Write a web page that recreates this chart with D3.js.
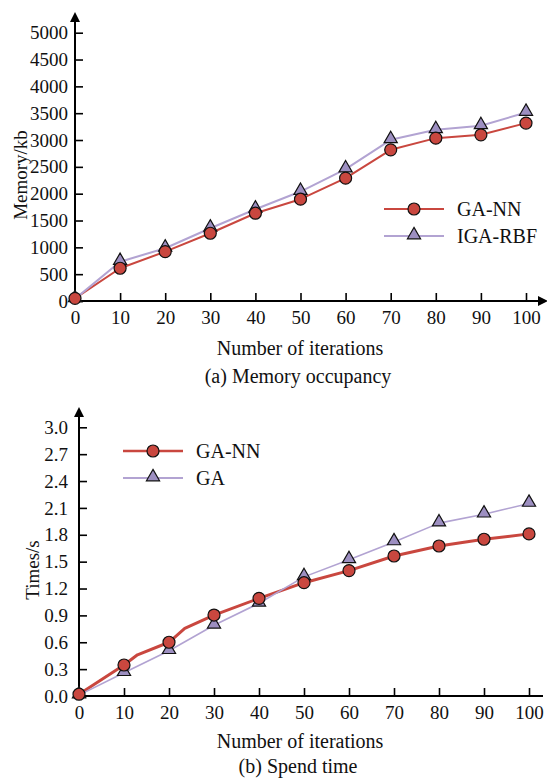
<!DOCTYPE html>
<html>
<head>
<meta charset="utf-8">
<script src="https://cdn.jsdelivr.net/npm/d3@7"></script>
<style>
  body { margin: 0; background: #fff; }
  svg { display: block; }
  text { font-family: "Liberation Serif", "Times New Roman", serif; fill: #111; }
</style>
</head>
<body>
<div id="chart"></div>
<script>
// x categories (iterations)
var iterations = [0, 10, 20, 30, 40, 50, 60, 70, 80, 90, 100];

// (a) memory occupancy, kb
var memGANN = [50, 610, 920, 1263, 1636, 1897, 2289, 2817, 3035, 3097, 3315];
var memIGARBF = [40, 733, 983, 1356, 1710, 2040, 2457, 3004, 3190, 3265, 3513];
var memTicks = [0, 500, 1000, 1500, 2000, 2500, 3000, 3500, 4000, 4500, 5000];

// (b) spend time, s  (GA-NN line has two extra bends between markers)
var timeGANNx = [0, 10, 13, 20, 23.5, 30, 40, 50, 60, 70, 80, 90, 100];
var timeGANNline = [0.02, 0.346, 0.46, 0.60, 0.756, 0.904, 1.09, 1.265, 1.40, 1.563, 1.675, 1.75, 1.81];
var timeGANN = [0.02, 0.346, 0.60, 0.904, 1.09, 1.265, 1.40, 1.563, 1.675, 1.75, 1.81];
var timeGA = [0.01, 0.26, 0.506, 0.79, 1.035, 1.33, 1.52, 1.72, 1.93, 2.03, 2.15];
var timeTicks = [0, 0.3, 0.6, 0.9, 1.2, 1.5, 1.8, 2.1, 2.4, 2.7, 3.0];

var red = "#c9473f", purpleLine = "#b2a3d2", purpleFill = "#9d8fc1";

var svg = d3.select("#chart").append("svg")
  .attr("width", 547).attr("height", 778);

svg.append("defs").append("marker")
  .attr("id", "arrow")
  .attr("viewBox", "0 0 10 10")
  .attr("refX", 2).attr("refY", 5)
  .attr("markerWidth", 5).attr("markerHeight", 5)
  .attr("markerUnits", "strokeWidth")
  .attr("orient", "auto")
  .append("path").attr("d", "M0,0 L10,5 L0,10 z").attr("fill", "#000");

var triangle = d3.symbol().type(d3.symbolTriangle).size(75);

function drawPanel(p) {
  var g = svg.append("g");
  var x = d3.scaleLinear().domain([0, 100]).range([p.x0, p.x1]);
  var y = d3.scaleLinear().domain(p.yDomain).range([p.y0, p.y1]);

  // axes via d3, ticks pointing inward
  var ya = g.append("g").attr("transform", "translate(" + p.x0 + ",0)")
    .call(d3.axisLeft(y).tickValues(p.yTicks).tickFormat(p.yFormat)
      .tickSizeInner(-8).tickSizeOuter(0).tickPadding(p.yPad));
  var xa = g.append("g").attr("transform", "translate(0," + p.y0 + ")")
    .call(d3.axisBottom(x).tickValues(iterations)
      .tickSizeInner(-8).tickSizeOuter(0).tickPadding(17));
  [ya, xa].forEach(function (a) {
    a.select(".domain").remove();
    a.selectAll("line").attr("stroke", "#000").attr("stroke-width", 1.6);
    a.selectAll("text").style("font-size", "19px").style("font-family", "Liberation Serif").attr("fill", "#111");
  });
  xa.selectAll("text").attr("dy", "0.32em");

  // axis lines
  g.append("line").attr("x1", p.x0).attr("x2", p.x0)
    .attr("y1", p.y0 + 1).attr("y2", p.yTop)
    .attr("stroke", "#000").attr("stroke-width", 2)
    .attr("marker-end", "url(#arrow)");
  var xl = g.append("line").attr("x1", p.x0 - 1).attr("x2", p.xRight)
    .attr("y1", p.y0).attr("y2", p.y0)
    .attr("stroke", "#000").attr("stroke-width", 2);
  if (p.xArrow) xl.attr("marker-end", "url(#arrow)");

  // series
  p.series.forEach(function (s) {
    var pts = s.lineX.map(function (v, i) { return [x(v), y(s.lineY[i])]; });
    g.append("path").attr("d", d3.line()(pts))
      .attr("fill", "none").attr("stroke", s.color).attr("stroke-width", s.width)
      .attr("stroke-linejoin", "round");
  });
  p.series.slice().reverse().forEach(function (s) {
    s.values.forEach(function (v, i) {
      drawMarker(g, s, x(iterations[i]), y(v));
    });
  });

  // legend
  p.series.forEach(function (s, i) {
    var ly = p.legY + i * 27;
    g.append("line").attr("x1", p.legX).attr("x2", p.legX + 60)
      .attr("y1", ly).attr("y2", ly)
      .attr("stroke", s.color).attr("stroke-width", s.legWidth);
    drawMarker(g, s, p.legX + 30, ly);
    g.append("text").attr("x", p.legX + 73).attr("y", ly).attr("dy", "0.35em")
      .style("font-size", "20px").text(s.name);
  });

  // labels
  g.append("text")
    .attr("transform", "translate(" + p.ylabX + "," + p.ylabY + ") rotate(-90)")
    .attr("text-anchor", "middle").attr("dy", "0.35em")
    .style("font-size", "19px").text(p.ylabel);
  g.append("text").attr("x", 300).attr("y", p.xlabY).attr("text-anchor", "middle")
    .style("font-size", "20px").text("Number of iterations");
  g.append("text").attr("x", 298).attr("y", p.capY).attr("text-anchor", "middle")
    .style("font-size", "20px").text(p.caption);
}

function drawMarker(g, s, cx, cy) {
  if (s.shape === "circle") {
    g.append("circle").attr("cx", cx).attr("cy", cy).attr("r", 6)
      .attr("fill", s.color).attr("stroke", "#111").attr("stroke-width", 1.2);
  } else {
    g.append("path").attr("d", triangle)
      .attr("transform", "translate(" + cx + "," + (cy - 1) + ")")
      .attr("fill", purpleFill).attr("stroke", "#111").attr("stroke-width", 1.2);
  }
}

drawPanel({
  x0: 75, x1: 526, xRight: 540, xArrow: true,
  y0: 301, y1: 32.7, yTop: 20, yDomain: [0, 5000],
  yTicks: memTicks, yFormat: d3.format("d"), yPad: 7,
  ylabel: "Memory/kb", ylabX: 20, ylabY: 175,
  xlabY: 355, caption: "(a) Memory occupancy", capY: 383,
  legX: 384, legY: 209,
  series: [
    { name: "GA-NN", shape: "circle", color: red, width: 2, legWidth: 2,
      lineX: iterations, lineY: memGANN, values: memGANN },
    { name: "IGA-RBF", shape: "triangle", color: purpleLine, width: 2, legWidth: 2,
      lineX: iterations, lineY: memIGARBF, values: memIGARBF }
  ]
});

drawPanel({
  x0: 79, x1: 529, xRight: 543, xArrow: false,
  y0: 696, y1: 427.3, yTop: 415, yDomain: [0, 3],
  yTicks: timeTicks, yFormat: d3.format(".1f"), yPad: 11,
  ylabel: "Times/s", ylabX: 32, ylabY: 570,
  xlabY: 748, caption: "(b) Spend time", capY: 773,
  legX: 123, legY: 451,
  series: [
    { name: "GA-NN", shape: "circle", color: red, width: 3, legWidth: 2.5,
      lineX: timeGANNx, lineY: timeGANNline, values: timeGANN },
    { name: "GA", shape: "triangle", color: purpleLine, width: 1.6, legWidth: 2,
      lineX: iterations, lineY: timeGA, values: timeGA }
  ]
});
</script>
</body>
</html>
